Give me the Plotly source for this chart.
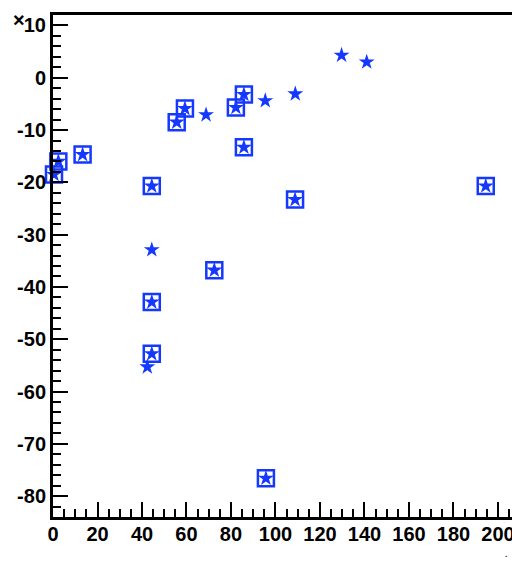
import plotly.graph_objects as go

# all points (drawn as stars)
x_all = [0.45, 2.4, 13.3, 44.4, 55.6, 59.3, 68.8, 82.2, 85.8, 85.8, 95.4,
         108.9, 129.7, 141.0, 108.8, 194.5, 44.4, 72.5, 44.4, 44.4, 42.4, 95.7]
y_all = [-18.5, -16.0, -14.7, -20.7, -8.5, -5.9, -7.1, -5.7, -3.2, -13.3, -4.4,
         -3.1, 4.3, 3.0, -23.3, -20.7, -32.9, -36.8, -42.9, -52.8, -55.3, -76.6]

# selected subset (drawn with open boxes)
x_sel = [0.45, 2.4, 13.3, 44.4, 55.6, 59.3, 82.2, 85.8, 85.8, 108.8, 194.5,
         72.5, 44.4, 44.4, 95.7]
y_sel = [-18.5, -16.0, -14.7, -20.7, -8.5, -5.9, -5.7, -3.2, -13.3, -23.3, -20.7,
         -36.8, -42.9, -52.8, -76.6]

# tick labels (hyphen minus, as in the reference)
x_ticks = [0, 20, 40, 60, 80, 100, 120, 140, 160, 180, 200]
y_ticks = [10, 0, -10, -20, -30, -40, -50, -60, -70, -80]

blue = "#1538ff"

fig = go.Figure()

fig.add_trace(go.Scatter(
    x=x_sel, y=y_sel, mode="markers",
    marker=dict(symbol="square-open", size=16, color=blue, line=dict(width=2.5, color=blue)),
    showlegend=False, cliponaxis=False
))

fig.add_trace(go.Scatter(
    x=x_all, y=y_all, mode="markers",
    marker=dict(symbol="star", size=12, color=blue, line=dict(width=0)),
    showlegend=False, cliponaxis=False
))

axis_font = dict(family="Liberation Sans, Arial, sans-serif", size=20, color="black", weight="bold")

fig.update_xaxes(
    range=[0, 206.3], tickmode="array",
    tickvals=x_ticks, ticktext=[str(v) for v in x_ticks],
    ticks="inside", ticklen=15, tickwidth=2, tickcolor="black",
    minor=dict(ticks="inside", dtick=5, tick0=0, ticklen=8, tickwidth=2, tickcolor="black"),
    showline=True, linewidth=3, linecolor="black", mirror=True,
    showgrid=False, zeroline=False, automargin=False,
    tickfont=axis_font, ticklabeloverflow="allow", ticklabelstandoff=-3
)
fig.update_yaxes(
    range=[-84, 12], tickmode="array",
    tickvals=y_ticks, ticktext=[str(v) for v in y_ticks],
    ticks="inside", ticklen=15, tickwidth=2, tickcolor="black",
    minor=dict(ticks="inside", dtick=2, tick0=0, ticklen=8, tickwidth=2, tickcolor="black"),
    showline=True, linewidth=3, linecolor="black",
    showgrid=False, zeroline=False, automargin=False,
    tickfont=axis_font, ticklabeloverflow="allow"
)

fig.update_layout(
    width=512, height=567,
    margin=dict(l=53, r=0, t=15, b=50),
    paper_bgcolor="white", plot_bgcolor="white",
    annotations=[
        dict(text="<b>×</b>", x=-0.074, y=0.99, xref="paper", yref="paper",
             showarrow=False, font=dict(family="Liberation Sans", size=20, color="black"),
             xanchor="center", yanchor="middle"),
        dict(text="<b>.</b>", x=1.0, y=-0.075, xref="paper", yref="paper", xshift=-3,
             showarrow=False, font=dict(family="Liberation Sans", size=8, color="black"),
             xanchor="right", yanchor="middle"),
    ],
)

# drop the default body margin so the figure sits at the window's corner
fig.write_html("out.html", config={"displayModeBar": False},
               post_script="document.body.style.margin='0';")
